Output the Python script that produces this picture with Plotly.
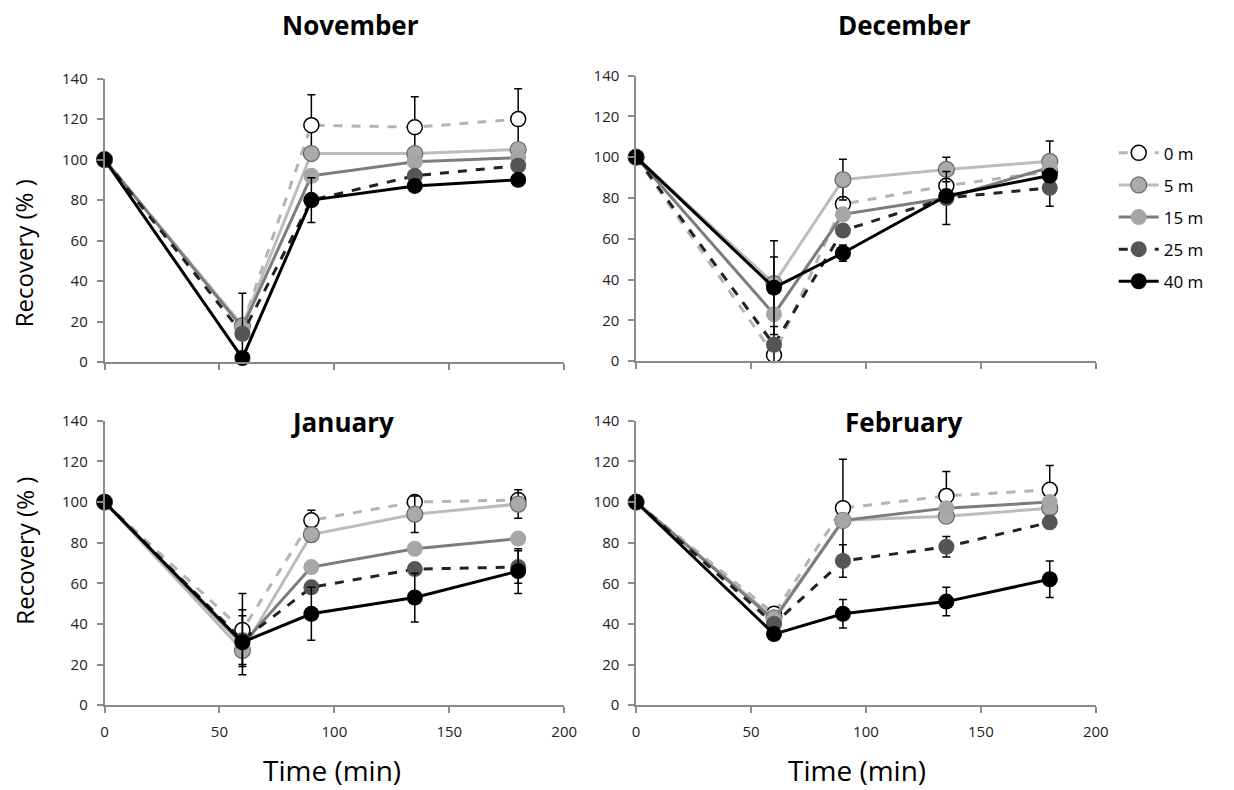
import plotly.graph_objects as go

# ---------------- data ----------------
time_min = [0, 60, 90, 135, 180]
depths = ["0 m", "5 m", "15 m", "25 m", "40 m"]
months = ["November", "December", "January", "February"]

nov_0m = [100, 18, 117, 116, 120]
nov_5m = [100, 18, 103, 103, 105]
nov_15m = [100, 17, 92, 99, 101]
nov_25m = [100, 14, 80, 92, 97]
nov_40m = [100, 2, 80, 87, 90]
nov_err_0m = [0, 0, 15, 15, 15]
nov_err_5m = [0, 0, 0, 0, 0]
nov_err_15m = [0, 0, 0, 0, 0]
nov_err_25m = [0, 20, 0, 0, 0]
nov_err_40m = [0, 0, 11, 2, 2]

dec_0m = [100, 3, 77, 86, 93]
dec_5m = [100, 38, 89, 94, 98]
dec_15m = [100, 23, 72, 80, 95]
dec_25m = [100, 8, 64, 80, 85]
dec_40m = [100, 36, 53, 81, 91]
dec_err_0m = [0, 2, 3, 3, 0]
dec_err_5m = [0, 13, 10, 6, 10]
dec_err_15m = [0, 0, 0, 13, 0]
dec_err_25m = [0, 9, 0, 0, 9]
dec_err_40m = [0, 23, 4, 0, 0]

jan_0m = [100, 37, 91, 100, 101]
jan_5m = [100, 27, 84, 94, 99]
jan_15m = [100, 30, 68, 77, 82]
jan_25m = [100, 32, 58, 67, 68]
jan_40m = [100, 31, 45, 53, 66]
jan_err_0m = [0, 18, 5, 3, 2]
jan_err_5m = [0, 0, 0, 9, 7]
jan_err_15m = [0, 0, 0, 0, 0]
jan_err_25m = [0, 12, 0, 0, 8]
jan_err_40m = [0, 16, 13, 12, 11]

feb_0m = [100, 45, 97, 103, 106]
feb_5m = [100, 43, 91, 93, 97]
feb_15m = [100, 42, 91, 97, 100]
feb_25m = [100, 40, 71, 78, 90]
feb_40m = [100, 35, 45, 51, 62]
feb_err_0m = [0, 0, 24, 12, 12]
feb_err_5m = [0, 0, 0, 3, 0]
feb_err_15m = [0, 0, 0, 0, 0]
feb_err_25m = [0, 0, 8, 5, 3]
feb_err_40m = [0, 0, 7, 7, 9]

x_ticks = [0, 50, 100, 150, 200]
y_ticks = [0, 20, 40, 60, 80, 100, 120, 140]

panel_values = [
    [nov_0m, nov_5m, nov_15m, nov_25m, nov_40m],
    [dec_0m, dec_5m, dec_15m, dec_25m, dec_40m],
    [jan_0m, jan_5m, jan_15m, jan_25m, jan_40m],
    [feb_0m, feb_5m, feb_15m, feb_25m, feb_40m],
]
panel_errors = [
    [nov_err_0m, nov_err_5m, nov_err_15m, nov_err_25m, nov_err_40m],
    [dec_err_0m, dec_err_5m, dec_err_15m, dec_err_25m, dec_err_40m],
    [jan_err_0m, jan_err_5m, jan_err_15m, jan_err_25m, jan_err_40m],
    [feb_err_0m, feb_err_5m, feb_err_15m, feb_err_25m, feb_err_40m],
]

# ---------------- styles ----------------
styles = [
    dict(line=dict(color="#b4b4b4", width=3, dash="dash"),
         marker=dict(color="white", size=15, line=dict(color="black", width=1.5))),
    dict(line=dict(color="#bcbcbc", width=3, dash="solid"),
         marker=dict(color="#aaaaaa", size=16, line=dict(color="#666666", width=1.2))),
    dict(line=dict(color="#7c7c7c", width=3, dash="solid"),
         marker=dict(color="#a6a6a6", size=16, line=dict(color="#a6a6a6", width=0))),
    dict(line=dict(color="#222222", width=3, dash="dash"),
         marker=dict(color="#555555", size=16, line=dict(color="#555555", width=0))),
    dict(line=dict(color="#000000", width=3, dash="solid"),
         marker=dict(color="#000000", size=16, line=dict(color="#000000", width=0))),
]

# Figure size, plus a calibration from target-picture pixels to figure pixels
W, H = 1234, 790
SX, CX = 0.987, 4.4
SY, CY = 0.98, 8.0
def fx(px):
    return ((px - CX) / SX) / W
def fy(py):
    return 1 - ((py - CY) / SY) / H
def px_x(a, b):
    return [fx(a), fx(b)]
def px_y(top, bottom):
    return [fy(bottom), fy(top)]

x_domains = [px_x(105, 565), px_x(637, 1097), px_x(105, 565), px_x(637, 1097)]
y_domains = [px_y(76, 361), px_y(73, 360), px_y(420, 706), px_y(420, 706)]

fig = go.Figure()
FONT = "Open Sans, Liberation Sans, sans-serif"

for p in range(4):
    xa = "x" if p == 0 else f"x{p+1}"
    ya = "y" if p == 0 else f"y{p+1}"
    for s in range(5):
        st = styles[s]
        fig.add_trace(go.Scatter(
            x=time_min, y=panel_values[p][s],
            mode="lines+markers",
            name=depths[s], legendgroup=depths[s], showlegend=(p == 0),
            line=st["line"], marker=st["marker"],
            error_y=dict(type="data", array=panel_errors[p][s], symmetric=True,
                         color="black", thickness=1.5, width=4),
            cliponaxis=False,
            xaxis=xa, yaxis=ya,
        ))

axis_common = dict(showgrid=False, zeroline=False, showline=True,
                   linecolor="#8a8a8a", linewidth=1.5, ticks="outside",
                   tickcolor="#8a8a8a", ticklen=6, tickwidth=1.5,
                   tickfont=dict(family=FONT, size=15, color="#222222"))

layout = {}
for p in range(4):
    xkey = "xaxis" if p == 0 else f"xaxis{p+1}"
    ykey = "yaxis" if p == 0 else f"yaxis{p+1}"
    ya = "y" if p == 0 else f"y{p+1}"
    xa = "x" if p == 0 else f"x{p+1}"
    layout[xkey] = dict(axis_common, domain=x_domains[p], range=[0, 200],
                        tickvals=x_ticks, showticklabels=(p >= 2),
                        anchor=ya, ticklabelstandoff=6)
    layout[ykey] = dict(axis_common, domain=y_domains[p], range=[0, 140],
                        tickvals=y_ticks, anchor=xa, ticklabelstandoff=6)

fig.update_layout(**layout)

annotations = []
title_pos = [(351, 22), (906, 22), (343, 421), (905, 421)]
for p in range(4):
    annotations.append(dict(text="<b>" + months[p] + "</b>", x=fx(title_pos[p][0]),
                            y=fy(title_pos[p][1]), xref="paper", yref="paper",
                            showarrow=False, xanchor="center", yanchor="middle",
                            font=dict(family=FONT, size=26, color="black")))
for yc in [252, 551]:
    annotations.append(dict(text="Recovery (% )", x=fx(24), y=fy(yc),
                            xref="paper", yref="paper", showarrow=False,
                            textangle=-90, xanchor="center", yanchor="middle",
                            font=dict(family=FONT, size=24, color="black")))
for xc in [333, 858]:
    annotations.append(dict(text="Time (min)", x=fx(xc), y=fy(771),
                            xref="paper", yref="paper", showarrow=False,
                            xanchor="center", yanchor="middle",
                            font=dict(family=FONT, size=28, color="black")))

fig.update_layout(
    width=W, height=H,
    margin=dict(l=0, r=0, t=0, b=0),
    paper_bgcolor="white", plot_bgcolor="white",
    annotations=annotations,
    legend=dict(x=fx(1115), y=fy(133), xanchor="left", yanchor="top",
                font=dict(family=FONT, size=17, color="black"),
                tracegroupgap=7, itemwidth=40, bgcolor="rgba(0,0,0,0)"),
    showlegend=True,
)

fig.write_html("out.html")
